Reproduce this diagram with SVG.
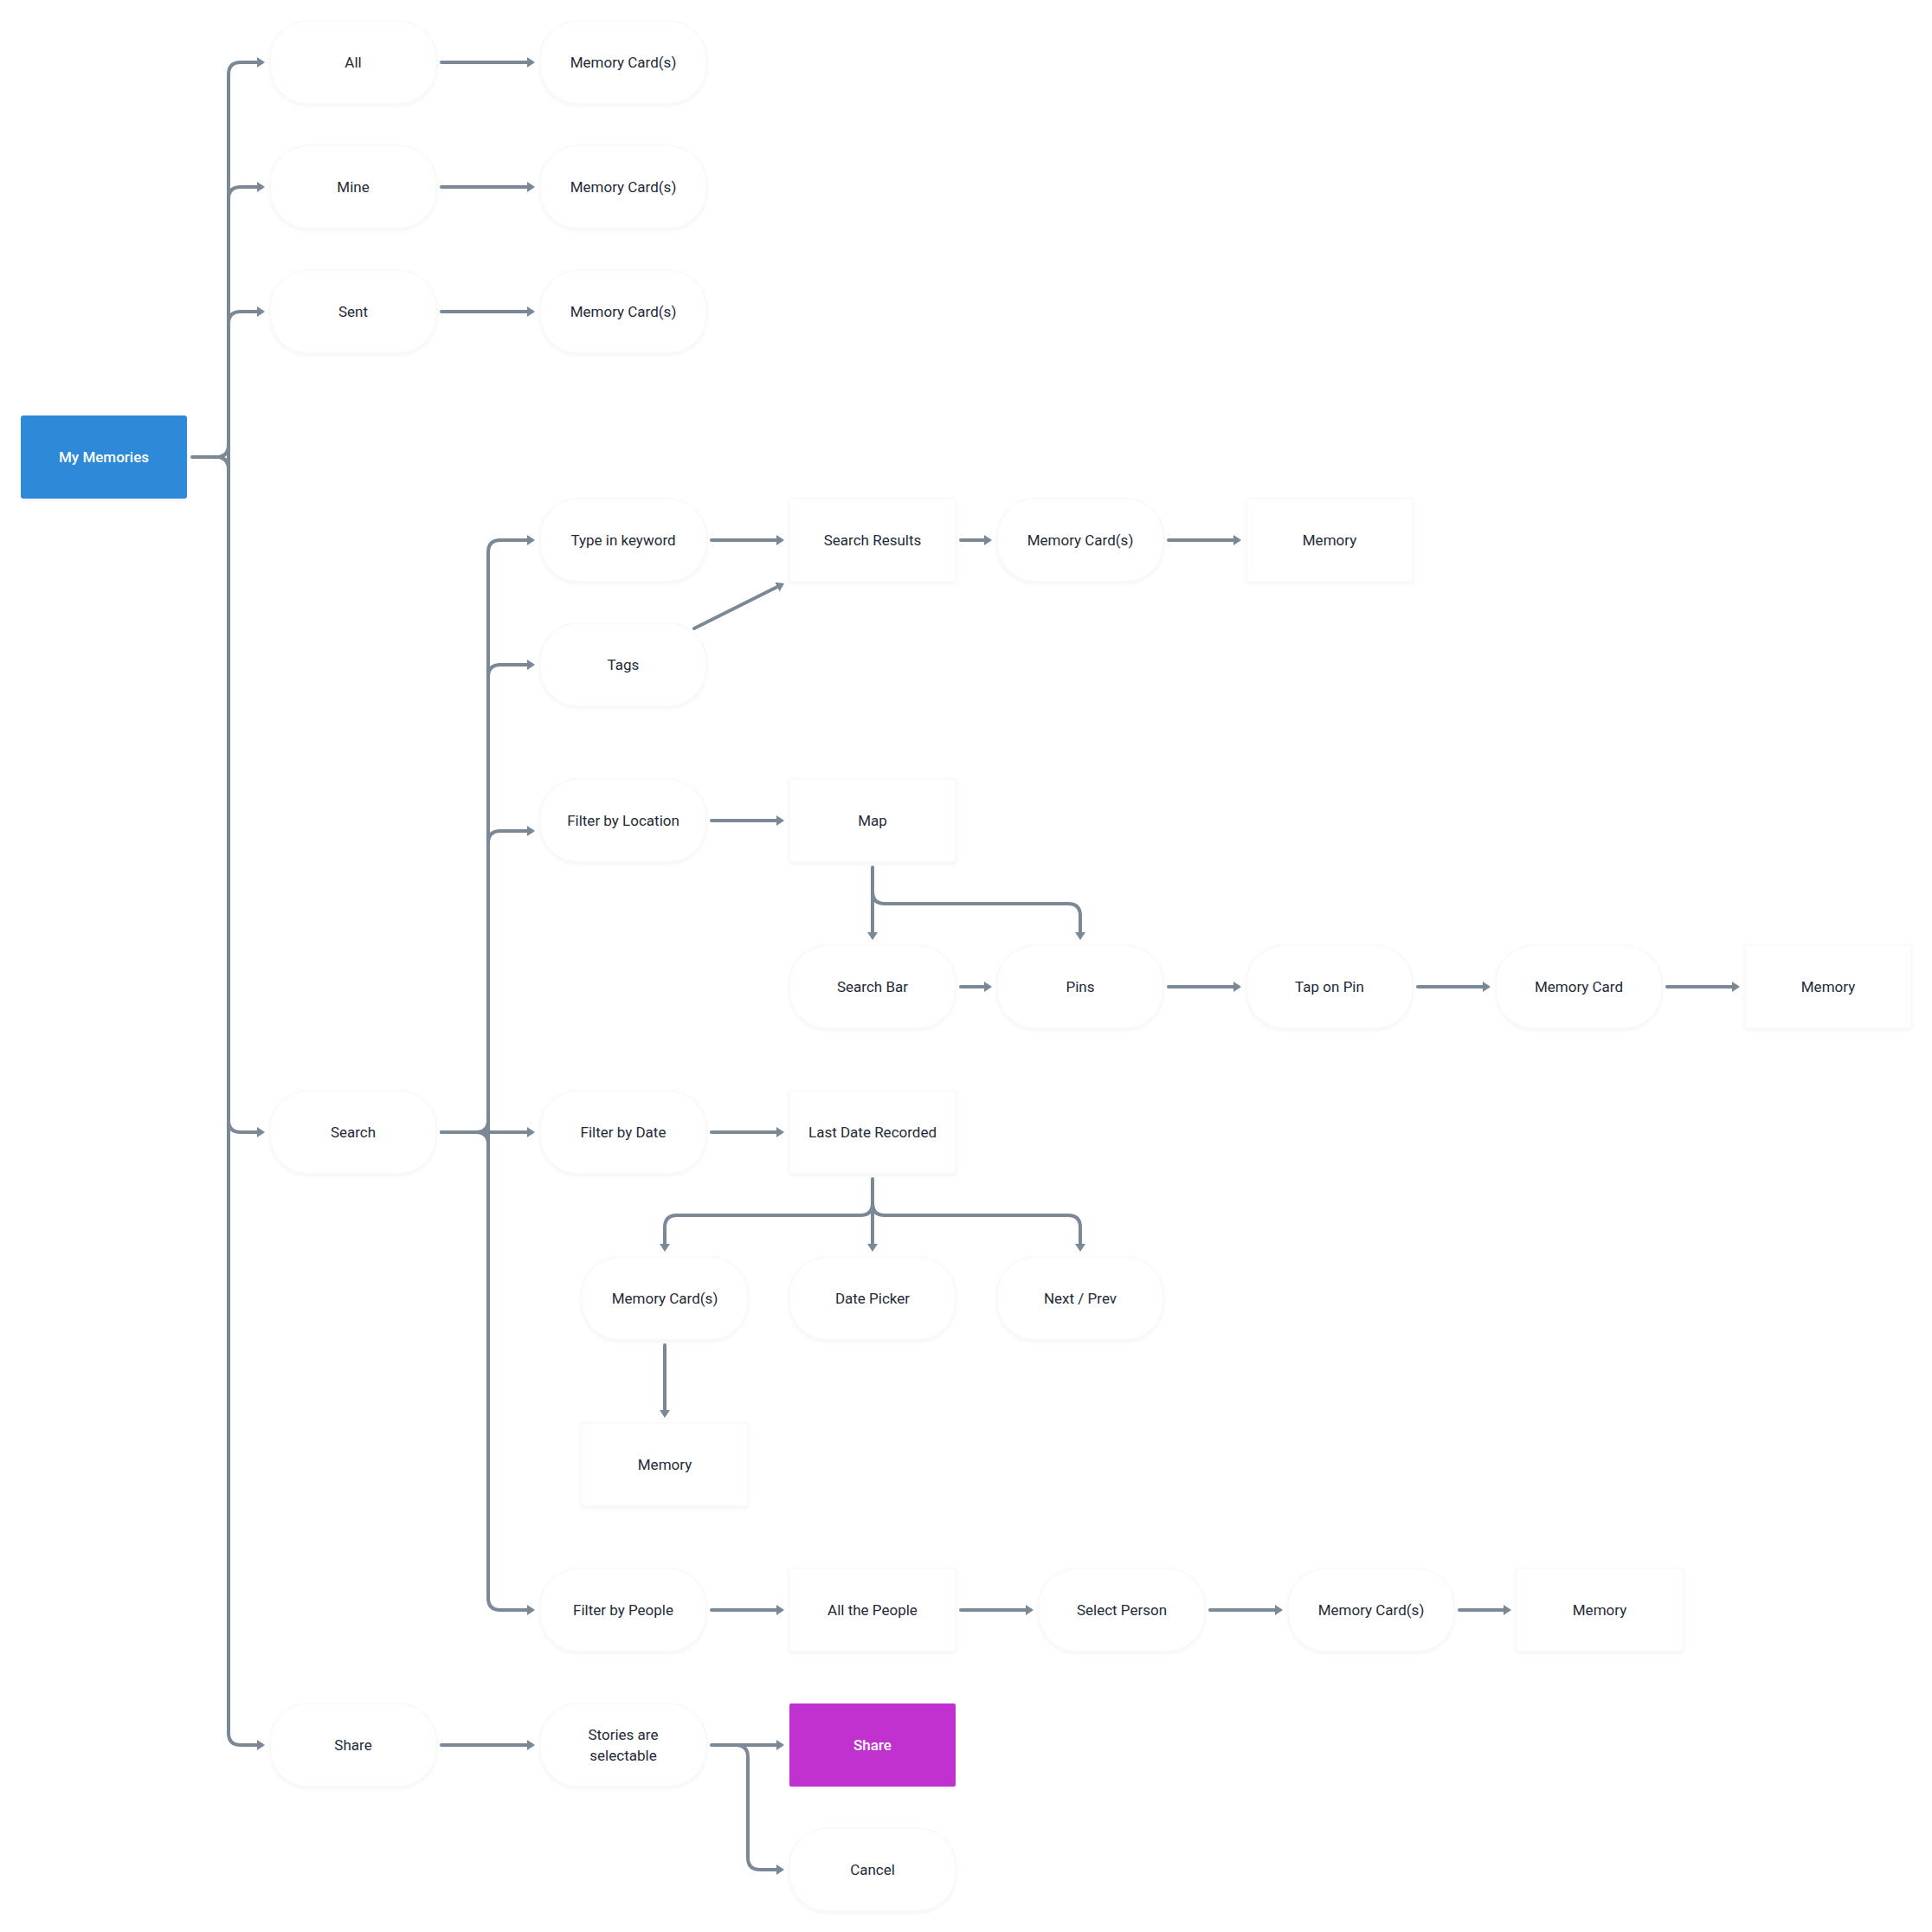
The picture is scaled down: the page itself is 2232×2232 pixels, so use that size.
<svg xmlns="http://www.w3.org/2000/svg" width="2232" height="2232" viewBox="0 0 2232 2232">
<defs>
<filter id="sh" x="-10%" y="-10%" width="120%" height="130%">
<feDropShadow dx="0" dy="2" stdDeviation="2.5" flood-color="#000" flood-opacity="0.045"/>
</filter>
<marker id="ah" markerUnits="userSpaceOnUse" viewBox="0 0 9 12" markerWidth="9" markerHeight="12" refX="5" refY="6" orient="auto">
<path d="M0,0 L9,6 L0,12 z" fill="#7B8896"/>
</marker>
</defs>
<style>
.pill{fill:#fff;stroke:#f5f5f6;stroke-width:1;filter:url(#sh)}
.box{fill:#fff;stroke:#f5f5f6;stroke-width:1;filter:url(#sh)}
.t{font-family:Roboto,"Liberation Sans",sans-serif;font-size:17px;font-weight:400;fill:#1F2B38;text-anchor:middle}
.tw{font-family:Roboto,"Liberation Sans",sans-serif;font-size:17px;font-weight:500;fill:#fff;text-anchor:middle}
.c{fill:none;stroke:#7B8896;stroke-width:4;stroke-linecap:round;stroke-linejoin:round}
.a{marker-end:url(#ah)}
</style>
<rect width="2232" height="2232" fill="#fff"/>

<g id="connectors">
<path class="c" d="M264,86 V2002"/>
<path class="c" d="M222,528 H250 Q264,528 264,514 M250,528 Q264,528 264,542"/>
<path class="c a" d="M264,86 Q264,72 278,72 H302"/>
<path class="c a" d="M264,230 Q264,216 278,216 H302"/>
<path class="c a" d="M264,374 Q264,360 278,360 H302"/>
<path class="c a" d="M264,1294 Q264,1308 278,1308 H302"/>
<path class="c a" d="M264,2002 Q264,2016 278,2016 H302"/>
<path class="c a" d="M510,72 H614"/>
<path class="c a" d="M510,216 H614"/>
<path class="c a" d="M510,360 H614"/>
<path class="c" d="M564,638 V1846"/>
<path class="c" d="M510,1308 H550 Q564,1308 564,1294 M550,1308 Q564,1308 564,1322"/>
<path class="c a" d="M564,638 Q564,624 578,624 H614"/>
<path class="c a" d="M564,782 Q564,768 578,768 H614"/>
<path class="c a" d="M564,974 Q564,960 578,960 H614"/>
<path class="c a" d="M510,1308 H614"/>
<path class="c a" d="M564,1846 Q564,1860 578,1860 H614"/>
<path class="c a" d="M822,624 H902"/>
<path class="c a" d="M1110,624 H1142"/>
<path class="c a" d="M1350,624 H1430"/>
<path class="c a" d="M802,726 L902.4,675.8"/>
<path class="c a" d="M822,948 H902"/>
<path class="c a" d="M1008,1002 V1082"/>
<path class="c a" d="M1008,1030 Q1008,1044 1022,1044 H1234 Q1248,1044 1248,1058 V1082"/>
<path class="c a" d="M1110,1140 H1142"/>
<path class="c a" d="M1350,1140 H1430"/>
<path class="c a" d="M1638,1140 H1718"/>
<path class="c a" d="M1926,1140 H2006"/>
<path class="c a" d="M822,1308 H902"/>
<path class="c a" d="M1008,1362 V1442"/>
<path class="c a" d="M1008,1390 Q1008,1404 994,1404 H782 Q768,1404 768,1418 V1442"/>
<path class="c a" d="M1008,1390 Q1008,1404 1022,1404 H1234 Q1248,1404 1248,1418 V1442"/>
<path class="c a" d="M768,1554 V1634"/>
<path class="c a" d="M822,1860 H902"/>
<path class="c a" d="M1110,1860 H1190"/>
<path class="c a" d="M1398,1860 H1478"/>
<path class="c a" d="M1686,1860 H1742"/>
<path class="c a" d="M510,2016 H614"/>
<path class="c a" d="M822,2016 H902"/>
<path class="c a" d="M850,2016 Q864,2016 864,2030 V2146 Q864,2160 878,2160 H902"/>
</g>

<g id="my-memories"><rect x="24" y="480" width="192" height="96" rx="3" fill="#2E89D8" filter="url(#sh)"/><text class="tw" x="120" y="534">My Memories</text></g>

<g id="all"><rect class="pill" x="312" y="24" width="192" height="96" rx="44"/><text class="t" x="408" y="78">All</text></g>
<g id="mine"><rect class="pill" x="312" y="168" width="192" height="96" rx="44"/><text class="t" x="408" y="222">Mine</text></g>
<g id="sent"><rect class="pill" x="312" y="312" width="192" height="96" rx="44"/><text class="t" x="408" y="366">Sent</text></g>
<g id="search"><rect class="pill" x="312" y="1260" width="192" height="96" rx="44"/><text class="t" x="408" y="1314">Search</text></g>
<g id="share"><rect class="pill" x="312" y="1968" width="192" height="96" rx="44"/><text class="t" x="408" y="2022">Share</text></g>

<g id="all-cards"><rect class="pill" x="624" y="24" width="192" height="96" rx="44"/><text class="t" x="720" y="78">Memory Card(s)</text></g>
<g id="mine-cards"><rect class="pill" x="624" y="168" width="192" height="96" rx="44"/><text class="t" x="720" y="222">Memory Card(s)</text></g>
<g id="sent-cards"><rect class="pill" x="624" y="312" width="192" height="96" rx="44"/><text class="t" x="720" y="366">Memory Card(s)</text></g>

<g id="type-keyword"><rect class="pill" x="624" y="576" width="192" height="96" rx="44"/><text class="t" x="720" y="630">Type in keyword</text></g>
<g id="tags"><rect class="pill" x="624" y="720" width="192" height="96" rx="44"/><text class="t" x="720" y="774">Tags</text></g>
<g id="filter-location"><rect class="pill" x="624" y="900" width="192" height="96" rx="44"/><text class="t" x="720" y="954">Filter by Location</text></g>
<g id="filter-date"><rect class="pill" x="624" y="1260" width="192" height="96" rx="44"/><text class="t" x="720" y="1314">Filter by Date</text></g>
<g id="filter-people"><rect class="pill" x="624" y="1812" width="192" height="96" rx="44"/><text class="t" x="720" y="1866">Filter by People</text></g>
<g id="stories"><rect class="pill" x="624" y="1968" width="192" height="96" rx="44"/><text class="t" x="720" y="2010">Stories are</text><text class="t" x="720" y="2034">selectable</text></g>

<g id="search-results"><rect class="box" x="912" y="576" width="192" height="96" rx="2"/><text class="t" x="1008" y="630">Search Results</text></g>
<g id="search-cards"><rect class="pill" x="1152" y="576" width="192" height="96" rx="44"/><text class="t" x="1248" y="630">Memory Card(s)</text></g>
<g id="search-memory"><rect class="box" x="1440" y="576" width="192" height="96" rx="2"/><text class="t" x="1536" y="630">Memory</text></g>

<g id="map"><rect class="box" x="912" y="900" width="192" height="96" rx="2"/><text class="t" x="1008" y="954">Map</text></g>
<g id="search-bar"><rect class="pill" x="912" y="1092" width="192" height="96" rx="44"/><text class="t" x="1008" y="1146">Search Bar</text></g>
<g id="pins"><rect class="pill" x="1152" y="1092" width="192" height="96" rx="44"/><text class="t" x="1248" y="1146">Pins</text></g>
<g id="tap-pin"><rect class="pill" x="1440" y="1092" width="192" height="96" rx="44"/><text class="t" x="1536" y="1146">Tap on Pin</text></g>
<g id="pin-card"><rect class="pill" x="1728" y="1092" width="192" height="96" rx="44"/><text class="t" x="1824" y="1146">Memory Card</text></g>
<g id="pin-memory"><rect class="box" x="2016" y="1092" width="192" height="96" rx="2"/><text class="t" x="2112" y="1146">Memory</text></g>

<g id="last-date"><rect class="box" x="912" y="1260" width="192" height="96" rx="2"/><text class="t" x="1008" y="1314">Last Date Recorded</text></g>
<g id="date-cards"><rect class="pill" x="672" y="1452" width="192" height="96" rx="44"/><text class="t" x="768" y="1506">Memory Card(s)</text></g>
<g id="date-picker"><rect class="pill" x="912" y="1452" width="192" height="96" rx="44"/><text class="t" x="1008" y="1506">Date Picker</text></g>
<g id="next-prev"><rect class="pill" x="1152" y="1452" width="192" height="96" rx="44"/><text class="t" x="1248" y="1506">Next / Prev</text></g>
<g id="date-memory"><rect class="box" x="672" y="1644" width="192" height="96" rx="2"/><text class="t" x="768" y="1698">Memory</text></g>

<g id="all-people"><rect class="box" x="912" y="1812" width="192" height="96" rx="2"/><text class="t" x="1008" y="1866">All the People</text></g>
<g id="select-person"><rect class="pill" x="1200" y="1812" width="192" height="96" rx="44"/><text class="t" x="1296" y="1866">Select Person</text></g>
<g id="people-cards"><rect class="pill" x="1488" y="1812" width="192" height="96" rx="44"/><text class="t" x="1584" y="1866">Memory Card(s)</text></g>
<g id="people-memory"><rect class="box" x="1752" y="1812" width="192" height="96" rx="2"/><text class="t" x="1848" y="1866">Memory</text></g>

<g id="share-action"><rect x="912" y="1968" width="192" height="96" rx="2" fill="#BF33CF" filter="url(#sh)"/><text class="tw" x="1008" y="2022">Share</text></g>
<g id="cancel"><rect class="pill" x="912" y="2112" width="192" height="96" rx="44"/><text class="t" x="1008" y="2166">Cancel</text></g>
</svg>
